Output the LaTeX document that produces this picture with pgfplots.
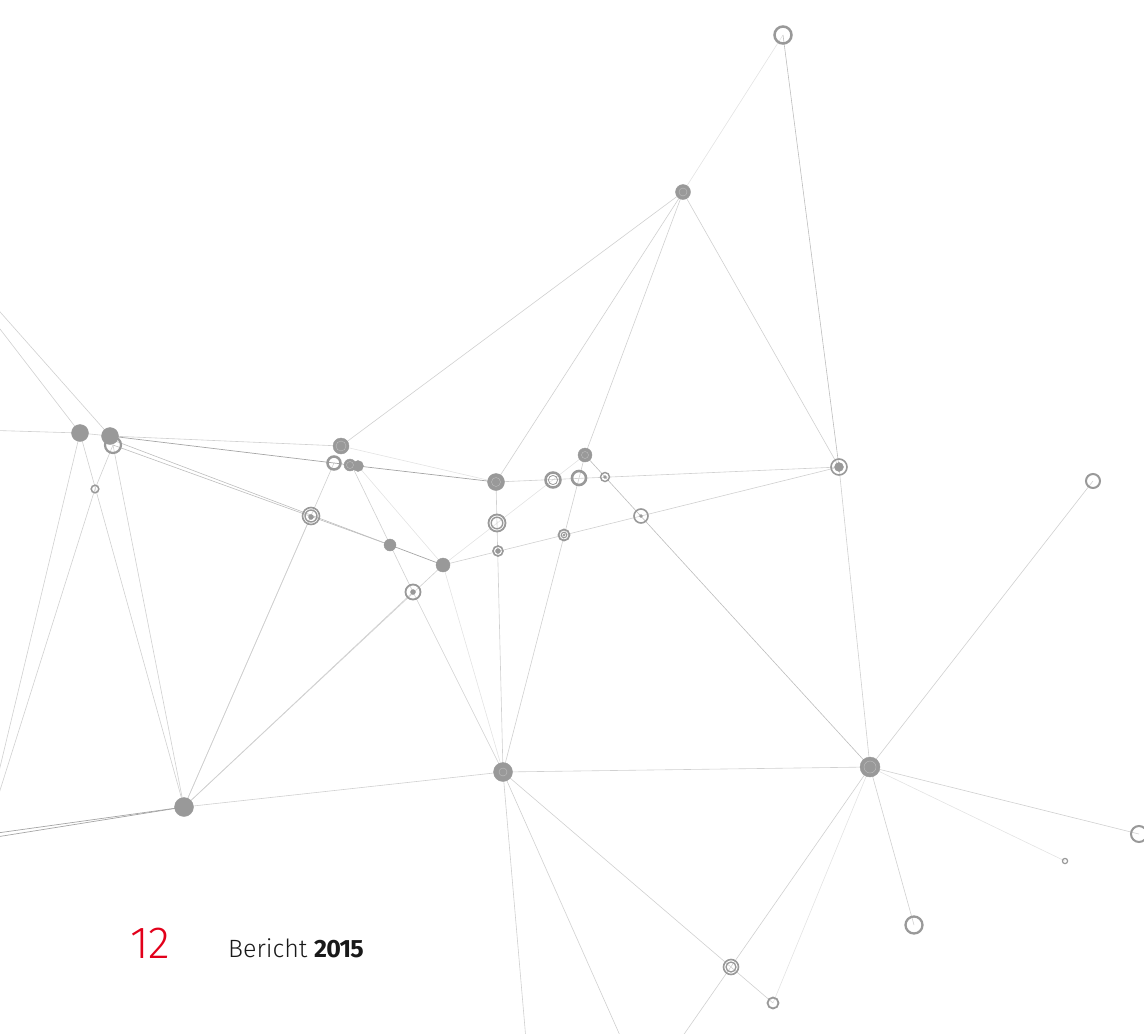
\documentclass[border=0pt]{standalone}
\usepackage{pgfplots}
\pgfplotsset{compat=1.18}
\usepackage{pgfplotstable}
\usepackage{fontspec}
\setmainfont{Fira Sans}
\newfontfamily\firalight{Fira Sans Light}
\definecolor{ng}{HTML}{999999}
\definecolor{innr}{HTML}{BEBEBE}
\definecolor{el}{HTML}{D0D0D0}
\definecolor{evl}{HTML}{E3E3E3}
\definecolor{em}{HTML}{BDBDBD}
\definecolor{ed}{HTML}{A5A5A5}
\definecolor{redtwelve}{HTML}{E2001A}

% filled nodes: x y r
\pgfplotstableread{
x y r
683 192 7.5
80 433 8.5
110 436 8.5
341 446 8
350 465 6
358 466 5.5
390 545 6
443 565 7
496 482 8.5
585 455 7
870 767 10
503 772 9.5
184 807 9.5
}\filled

% small inner dots: x y r
\pgfplotstableread{
x y r
413 592 2.5
498 551 2.5
605 477 1.5
641 516 1.5
839 467 4.5
311 517 2.5
564 535 1.2
}\dots

% lighter inner rings on filled nodes: x y r
\pgfplotstableread{
x y r
683 192 4
341 446 5
496 482 4.5
585 455 3.5
870 767 6
503 772 4
350 465 3.5
}\innerrings

\pgfplotsset{
  edge/.style={mark=none, line width=0.6pt, draw=el},
  vedge/.style={mark=none, line width=0.6pt, draw=evl},
  medge/.style={mark=none, line width=0.6pt, draw=em},
  dedge/.style={mark=none, line width=0.7pt, draw=ed},
  ring/.style 2 args={only marks, mark=o, mark size=#1, mark options={draw=ng, line width=#2}},
}

\begin{document}
\begin{tikzpicture}
\begin{axis}[
  width=1144pt, height=1034pt, scale only axis,
  xmin=0, xmax=1144, ymin=0, ymax=1034, y dir=reverse,
  hide axis, clip=true,
]
% ---- edges ----
\addplot[vedge] coordinates {(783,35)(683,192)};
\addplot[edge] coordinates {(683,192)(341,446)};
\addplot[edge] coordinates {(683,192)(496,482)};
\addplot[edge] coordinates {(683,192)(585,455)};
\addplot[edge] coordinates {(683,192)(839,467)};
\addplot[edge] coordinates {(-30,278)(110,436)};
\addplot[edge] coordinates {(-30,290)(80,433)};
\addplot[edge] coordinates {(-20,430)(80,433)};
\addplot[edge] coordinates {(80,433)(110,436)};
\addplot[edge] coordinates {(110,436)(341,446)};
\addplot[edge] coordinates {(80,433)(184,807)};
\addplot[edge] coordinates {(80,433)(-10,809)};
\addplot[edge] coordinates {(113,445)(95,489)};
\addplot[edge] coordinates {(95,489)(-10,822)};
\addplot[edge] coordinates {(113,445)(184,807)};
\addplot[medge] coordinates {(113,445)(390,545)};
\addplot[medge] coordinates {(110,439)(390,545)};
\addplot[edge] coordinates {(334,463)(184,807)};
\addplot[vedge] coordinates {(341,446)(496,482)};
\addplot[edge] coordinates {(352,466)(413,592)};
\addplot[vedge] coordinates {(358,466)(443,565)};
\addplot[edge] coordinates {(443,565)(184,807)};
\addplot[edge] coordinates {(413,592)(503,772)};
\addplot[vedge] coordinates {(443,565)(503,772)};
\addplot[vedge] coordinates {(443,565)(585,455)};
\addplot[edge] coordinates {(443,565)(839,467)};
\addplot[edge] coordinates {(496,482)(503,772)};
\addplot[edge] coordinates {(496,482)(839,467)};
\addplot[medge] coordinates {(585,455)(870,767)};
\addplot[edge] coordinates {(585,455)(503,772)};
\addplot[medge] coordinates {(783,35)(839,467)};
\addplot[edge] coordinates {(839,467)(870,767)};
\addplot[edge] coordinates {(870,767)(1093,481)};
\addplot[edge] coordinates {(870,767)(1139,834)};
\addplot[vedge] coordinates {(870,767)(1065,861)};
\addplot[edge] coordinates {(870,767)(914,925)};
\addplot[edge] coordinates {(870,767)(680,1040)};
\addplot[vedge] coordinates {(870,767)(773,1003)};
\addplot[edge] coordinates {(503,772)(870,767)};
\addplot[edge] coordinates {(503,772)(773,1003)};
\addplot[edge] coordinates {(503,772)(526,1040)};
\addplot[edge] coordinates {(503,772)(622,1040)};
\addplot[edge] coordinates {(184,807)(311,516)};
\addplot[edge] coordinates {(184,807)(413,592)};
\addplot[edge] coordinates {(184,807)(503,772)};
\addplot[dedge] coordinates {(184,807)(-10,834)};
\addplot[dedge] coordinates {(184,807)(-10,838)};
\addplot[dedge] coordinates {(110,436)(334,463)};
\addplot[dedge] coordinates {(334,463)(358,466)};
\addplot[dedge] coordinates {(358,466)(496,482)};
\addplot[dedge] coordinates {(390,545)(443,565)};

% ---- filled nodes ----
\addplot[scatter, only marks, mark=*,
  scatter/use mapped color={draw=ng, fill=ng},
  visualization depends on={\thisrow{r}\as\rr},
  scatter/@pre marker code/.append style={/tikz/mark size=\rr},
] table[x=x, y=y] {\filled};

\addplot[scatter, only marks, mark=o,
  scatter/use mapped color={draw=innr},
  visualization depends on={\thisrow{r}\as\rr},
  scatter/@pre marker code/.append style={/tikz/mark size=\rr},
] table[x=x, y=y] {\innerrings};

% ---- ring nodes (radius, stroke width) ----
\addplot[ring={8.5}{2.5pt}] coordinates {(783,35)};
\addplot[ring={8}{2.2pt}] coordinates {(113,445)};
\addplot[ring={3.8}{1.5pt}] coordinates {(95,489)};
\addplot[ring={6.5}{2.5pt}] coordinates {(334,463)};
\addplot[ring={8.5}{1.6pt}] coordinates {(311,516)};
\addplot[ring={6}{1.4pt}] coordinates {(311,516)};
\addplot[ring={7.5}{1.8pt}] coordinates {(413,592)};
\addplot[ring={8.5}{1.8pt}] coordinates {(497,523)};
\addplot[ring={5.8}{1.4pt}] coordinates {(497,523)};
\addplot[ring={5}{1.6pt}] coordinates {(498,551)};
\addplot[ring={7.5}{2.5pt}] coordinates {(553,480)};
\addplot[ring={4.6}{0.8pt}] coordinates {(553,480)};
\addplot[ring={7}{2.6pt}] coordinates {(579,478)};
\addplot[ring={4.5}{1.4pt}] coordinates {(605,477)};
\addplot[ring={5.5}{1.8pt}] coordinates {(564,535)};
\addplot[ring={2.8}{1.0pt}] coordinates {(564,535)};
\addplot[ring={7}{1.6pt}] coordinates {(641,516)};
\addplot[ring={8}{1.6pt}] coordinates {(839,467)};
\addplot[ring={7}{2pt}] coordinates {(1093,481)};
\addplot[ring={7.5}{1.6pt}] coordinates {(731,967)};
\addplot[ring={5}{1.3pt}] coordinates {(731,967)};
\addplot[ring={5.5}{1.8pt}] coordinates {(773,1003)};
\addplot[ring={8.5}{2.3pt}] coordinates {(914,925)};
\addplot[ring={2.6}{1.2pt}] coordinates {(1065,861)};
\addplot[ring={8}{2pt}] coordinates {(1139,834)};

% ---- inner dots ----
\addplot[scatter, only marks, mark=*,
  scatter/use mapped color={draw=ng, fill=ng},
  visualization depends on={\thisrow{r}\as\rr},
  scatter/@pre marker code/.append style={/tikz/mark size=\rr},
] table[x=x, y=y] {\dots};

% ---- page text ----
\node[anchor=base west, inner sep=0pt, text=redtwelve,
  font=\firalight\fontsize{45}{45}\selectfont] at (axis cs:130,958) {12};
\node[anchor=base west, inner sep=0pt, text=black!90,
  font=\fontsize{25}{25}\selectfont] at (axis cs:228,957) {{\firalight Bericht} {\bfseries\addfontfeature{LetterSpace=-3}2015}};
\end{axis}
\pgfresetboundingbox
\path (current axis.south west) rectangle (current axis.north east);
\end{tikzpicture}
\end{document}
